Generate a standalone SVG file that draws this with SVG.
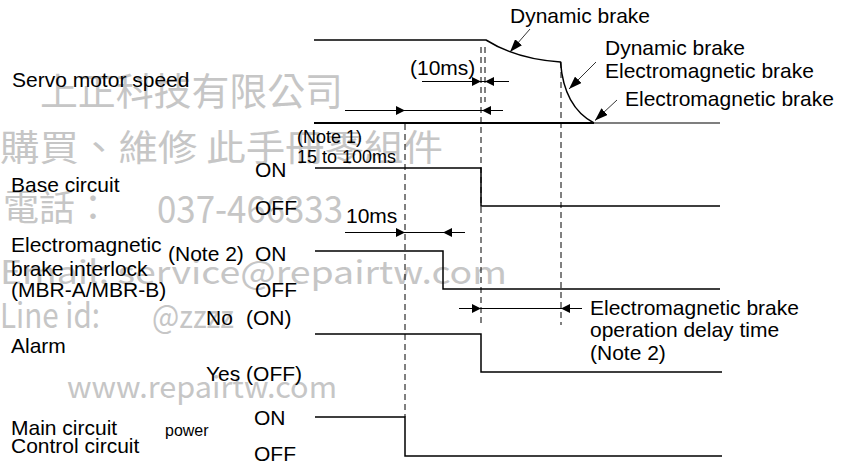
<svg xmlns="http://www.w3.org/2000/svg" width="845" height="468" viewBox="0 0 845 468">
<style>
.t{font-family:"Liberation Sans",Arial,sans-serif;font-size:21px;fill:#000}
.s{font-size:18px}
.p{font-size:16px}
.wm{font-family:"Noto Sans CJK TC","Noto Sans",sans-serif;fill:#c6c6c6}
.sig{fill:none;stroke:#000;stroke-width:1.5}
.base{fill:none;stroke:#000;stroke-width:2}
.dash{fill:none;stroke:#000;stroke-width:1;stroke-dasharray:6,4}
.dim{fill:none;stroke:#000;stroke-width:1}
.da{fill:none;stroke:#000;stroke-width:1;marker-end:url(#dh)}
.la{fill:none;stroke:#000;stroke-width:0.8;marker-end:url(#lh)}
</style>
<defs>
<marker id="dh" viewBox="0 0 9 9" refX="9" refY="4.5" markerWidth="9" markerHeight="9" markerUnits="userSpaceOnUse" orient="auto"><path d="M0,0L9,4.5L0,9z" fill="#000"/></marker>
<marker id="lh" viewBox="0 0 13 9" refX="13" refY="4.5" markerWidth="13" markerHeight="9" markerUnits="userSpaceOnUse" orient="auto"><path d="M0,0L13,4.5L0,9z" fill="#000"/></marker>
</defs>
<rect width="845" height="468" fill="#fff"/>
<g id="watermark" class="wm">
<text x="40" y="105" font-size="38" textLength="303" lengthAdjust="spacingAndGlyphs">上正科技有限公司</text>
<text x="0" y="161" font-size="36" textLength="443" lengthAdjust="spacingAndGlyphs">購買、維修 此手冊零組件</text>
<text x="3" y="221" font-size="36">電話：</text>
<text x="157" y="223" font-size="38" textLength="186" lengthAdjust="spacingAndGlyphs">037-466333</text>
<text x="0" y="284" font-size="32" textLength="507" lengthAdjust="spacingAndGlyphs">Email: service@repairtw.com</text>
<text x="0" y="328" font-size="34" textLength="100" lengthAdjust="spacingAndGlyphs">Line id:</text>
<text x="152" y="328" font-size="32" textLength="82" lengthAdjust="spacingAndGlyphs">@zzzz</text>
<text x="67" y="398" font-size="30" textLength="270" lengthAdjust="spacingAndGlyphs">www.repairtw.com</text>
</g>
<g id="guides">
<path class="dash" d="M405,124V417"/>
<path class="dash" d="M481,47V325"/>
<path class="dash" d="M485,47V102"/>
<path class="dash" d="M561,62V325"/>
</g>
<g id="servo-motor-speed">
<text class="t" x="12" y="87">Servo motor speed</text>
<path class="sig" d="M314,40H486C505,52 530,60 560.5,62C563,95 575,113 594,123"/>
<path class="base" d="M314,123H594"/>
<path d="M594,123H720" fill="none" stroke="#555" stroke-width="1.5"/>
</g>
<g id="base-circuit">
<text class="t" x="11" y="192">Base circuit</text>
<text class="t" x="255" y="177">ON</text>
<text class="t" x="255" y="215">OFF</text>
<path class="sig" d="M315,168H481V206H720"/>
</g>
<g id="em-brake-interlock">
<text class="t" x="11" y="252">Electromagnetic</text>
<text class="t" x="11" y="276">brake interlock</text>
<text class="t" x="11" y="297">(MBR-A/MBR-B)</text>
<text class="t" x="168" y="261">(Note 2)</text>
<text class="t" x="255" y="261">ON</text>
<text class="t" x="255" y="297">OFF</text>
<path class="sig" d="M315,251H443V289H720"/>
</g>
<g id="alarm">
<text class="t" x="11" y="353">Alarm</text>
<text class="t" x="206" y="325">No<tspan x="246">(ON)</tspan></text>
<text class="t" x="206" y="381" font-size="20">Yes (OFF)</text>
<path class="sig" d="M315,334H481V372H722"/>
</g>
<g id="main-control-circuit-power">
<text class="t" x="11" y="435">Main circuit</text>
<text class="t" x="11" y="453">Control circuit</text>
<text class="t p" x="165" y="436">power</text>
<text class="t" x="254" y="425">ON</text>
<text class="t" x="254" y="461">OFF</text>
<path class="sig" d="M315,417H405V456H722"/>
</g>
<g id="connectors">
<path class="dim" d="M422,81.5H509"/>
<path class="da" d="M430,81.5H481"/>
<path class="da" d="M505,81.5H485"/>
<path class="dim" d="M345,110.5H503"/>
<path class="da" d="M350,110.5H405"/>
<path class="da" d="M503,110.5H482"/>
<path class="dim" d="M345,232.5H465"/>
<path class="da" d="M350,232.5H405"/>
<path class="da" d="M465,232.5H443"/>
<path class="dim" d="M459,308.5H582"/>
<path class="da" d="M459,308.5H481"/>
<path class="da" d="M582,308.5H561"/>
<path class="la" d="M530,29L510,52"/>
<path class="la" d="M596,62L569,89"/>
<path class="la" d="M617,100L595,120.5"/>
</g>
<g id="annotations">
<text class="t" x="410" y="75">(10ms)</text>
<text class="t s" x="297" y="143">(Note 1)</text>
<text class="t s" x="297" y="162.5">15 to 100ms</text>
<text class="t" x="346" y="222.5">10ms</text>
<text class="t" x="510" y="23">Dynamic brake</text>
<text class="t" x="605" y="54.5">Dynamic brake</text>
<text class="t" x="605" y="77.5">Electromagnetic brake</text>
<text class="t" x="625" y="106">Electromagnetic brake</text>
<text class="t" x="590" y="315">Electromagnetic brake</text>
<text class="t" x="590" y="337">operation delay time</text>
<text class="t" x="590" y="360">(Note 2)</text>
</g>
</svg>
